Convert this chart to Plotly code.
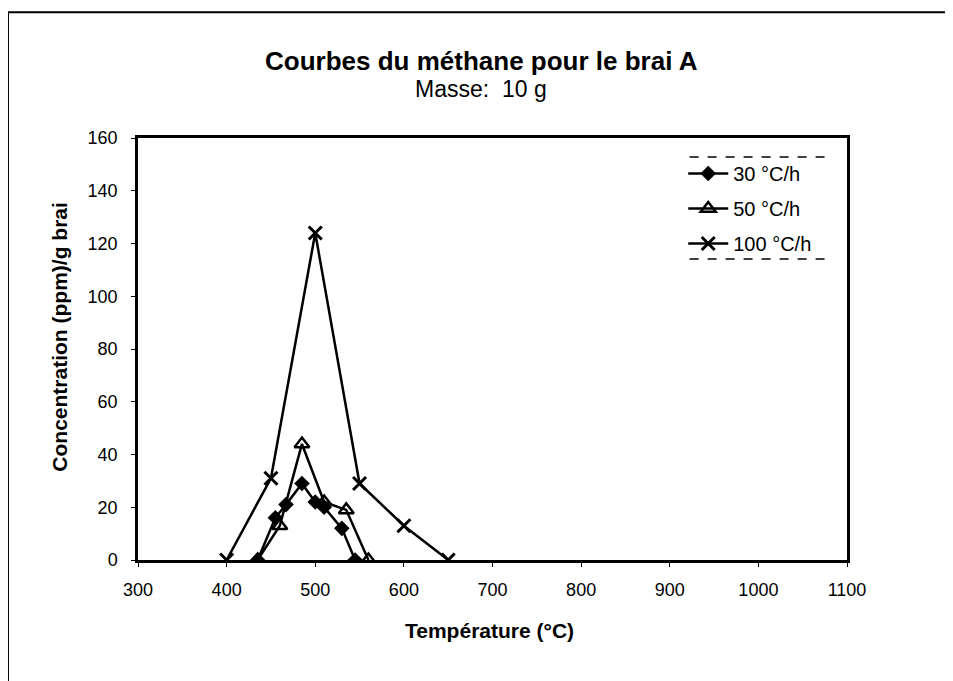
import plotly.graph_objects as go

# Data
temp_30 = [435, 455, 467, 485, 500, 510, 530, 545]
conc_30 = [0, 16, 21, 29, 22, 20, 12, 0]

temp_50 = [435, 460, 485, 510, 535, 560]
conc_50 = [0, 13, 44, 22, 19, 0]

temp_100 = [400, 450, 500, 550, 600, 650]
conc_100 = [0, 31, 124, 29, 13, 0]

series_names = ["30 °C/h", "50 °C/h", "100 °C/h"]
x_ticks = [300, 400, 500, 600, 700, 800, 900, 1000, 1100]
y_ticks = [0, 20, 40, 60, 80, 100, 120, 140, 160]

FONT = "Liberation Sans, Arial, sans-serif"

fig = go.Figure()
fig.add_trace(go.Scatter(x=temp_30, y=conc_30, name=series_names[0], mode="lines+markers",
                         legendgroup="a",
                         line=dict(color="black", width=2.5),
                         marker=dict(symbol="diamond", size=12, color="black")))
fig.add_trace(go.Scatter(x=temp_50, y=conc_50, name=series_names[1], mode="lines+markers",
                         legendgroup="b",
                         line=dict(color="black", width=2.5),
                         marker=dict(symbol="triangle-up-open", size=13, color="black",
                                     line=dict(width=2.5, color="black"))))
fig.add_trace(go.Scatter(x=temp_100, y=conc_100, name=series_names[2], mode="lines+markers",
                         legendgroup="c",
                         line=dict(color="black", width=2.5),
                         marker=dict(symbol="x-thin-open", size=13, color="black",
                                     line=dict(width=3, color="black"))))

fig.update_layout(
    width=953, height=681,
    margin=dict(l=130, r=114, t=130, b=129),
    paper_bgcolor="white", plot_bgcolor="white",
    font=dict(family=FONT, size=18, color="black"),
    showlegend=True,
    legend=dict(x=0.769, y=0.962, xanchor="left", yanchor="top",
                bgcolor="rgba(0,0,0,0)", borderwidth=0,
                font=dict(family=FONT, size=20, color="black"),
                itemwidth=40, tracegroupgap=6),
    xaxis=dict(range=[300, 1100], tickvals=x_ticks, ticktext=[str(v) for v in x_ticks],
               showgrid=False, zeroline=False, showline=True, linecolor="black",
               linewidth=2.5, mirror=True, ticks="outside", ticklen=4, tickcolor="black",
               ticklabelstandoff=8,
               tickfont=dict(family=FONT, size=18, color="black")),
    yaxis=dict(range=[0, 160], tickvals=y_ticks, ticktext=[str(v) for v in y_ticks],
               showgrid=False, zeroline=False, showline=True, linecolor="black",
               linewidth=2.5, mirror=True, ticks="outside", ticklen=4, tickcolor="black",
               ticklabelstandoff=10,
               tickfont=dict(family=FONT, size=18, color="black")),
    annotations=[
        dict(text="<b>Courbes du méthane pour le brai A</b>", x=0.484, y=1.222,
             xref="paper", yref="paper", showarrow=False, font=dict(size=26)),
        dict(text="Masse:  10 g", x=0.484, y=1.152,
             xref="paper", yref="paper", showarrow=False, font=dict(size=23)),
        dict(text="<b>Concentration (ppm)/g brai</b>", x=-0.13, y=0.53, textangle=-90,
             xref="paper", yref="paper", showarrow=False, font=dict(size=21)),
        dict(text="<b>Température (°C)</b>", x=0.496, y=-0.2,
             xref="paper", yref="paper", showarrow=False, font=dict(size=21)),
    ],
    shapes=[
        dict(type="rect", xref="paper", yref="paper", x0=-0.1834, x1=1.3, y0=-0.5, y1=1.298,
             line=dict(color="black", width=2), layer="below"),
        dict(type="line", xref="paper", yref="paper", x0=0.778, x1=0.972, y0=0.955, y1=0.955,
             line=dict(color="black", width=1.5, dash="dash")),
        dict(type="line", xref="paper", yref="paper", x0=0.778, x1=0.972, y0=0.713, y1=0.713,
             line=dict(color="black", width=1.5, dash="dash")),
    ],
)

fig.write_html("out.html")
